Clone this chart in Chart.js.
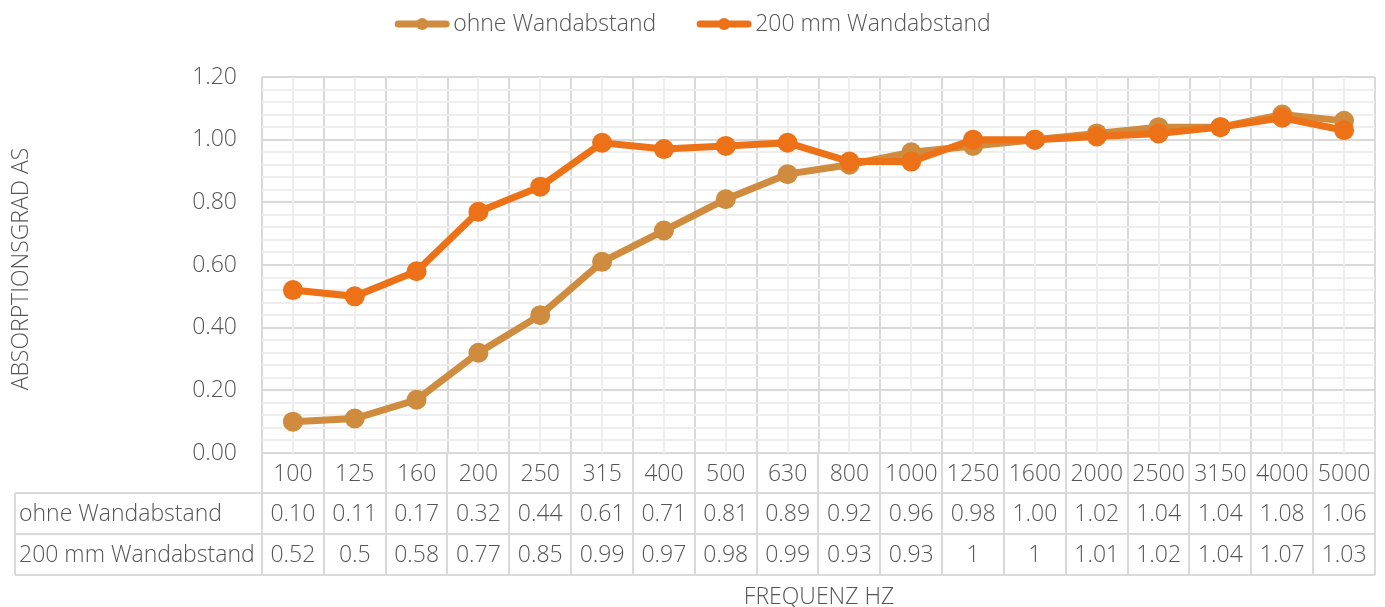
<!DOCTYPE html>
<html><head><meta charset="utf-8">
<script src="https://cdn.jsdelivr.net/npm/chart.js@4.4.1/dist/chart.umd.min.js"></script>
<style>html,body{margin:0;padding:0;background:#fff;}#wrap{width:1385px;height:607px;}</style>
</head><body><div id="wrap"><canvas id="c" width="1385" height="607"></canvas></div>
<script>
const categories = ["100","125","160","200","250","315","400","500","630","800","1000","1250","1600","2000","2500","3150","4000","5000"];
const ohneWandabstand = [0.10,0.11,0.17,0.32,0.44,0.61,0.71,0.81,0.89,0.92,0.96,0.98,1.00,1.02,1.04,1.04,1.08,1.06];
const mm200Wandabstand = [0.52,0.5,0.58,0.77,0.85,0.99,0.97,0.98,0.99,0.93,0.93,1,1,1.01,1.02,1.04,1.07,1.03];
const seriesLabels = ["ohne Wandabstand","200 mm Wandabstand"];
const yTitle = "ABSORPTIONSGRAD AS";
const xTitle = "FREQUENZ HZ";
const colors = ["#D08C3E","#ED7117"];
const FONT = "'Open Sans', sans-serif";
const W = "300 ";
const TXT = "#555555";
const MAJOR = "#d9d9d9", MINOR = "#eeeeee";

const tablePlugin = {
  id: 'tablePlugin',
  beforeDatasetsDraw(chart) {
    const ctx = chart.ctx, x = chart.scales.x, a = chart.chartArea;
    ctx.save();
    ctx.strokeStyle = MINOR; ctx.lineWidth = 2;
    for (let i = 0; i < categories.length; i++) {
      const px = Math.round(x.getPixelForValue(i));
      ctx.beginPath(); ctx.moveTo(px, a.top); ctx.lineTo(px, a.bottom); ctx.stroke();
    }
    ctx.restore();
  },
  afterDraw(chart) {
    const ctx = chart.ctx, x = chart.scales.x, a = chart.chartArea;
    const n = categories.length;
    const w = (x.getPixelForValue(1) - x.getPixelForValue(0));
    const r0 = a.bottom, r1 = r0 + 40, r2 = r1 + 41, r3 = r2 + 41;
    const tableLeft = 15;
    ctx.save();
    ctx.strokeStyle = MAJOR; ctx.lineWidth = 2;
    const line = (x1,y1,x2,y2) => { ctx.beginPath(); ctx.moveTo(x1,y1); ctx.lineTo(x2,y2); ctx.stroke(); };
    for (let i = 0; i <= n; i++) {
      const px = Math.round(x.getPixelForValue(0) - w/2 + i*w);
      line(px, r0, px, r3);
    }
    line(tableLeft, r1, a.right, r1);
    line(tableLeft, r2, a.right, r2);
    line(tableLeft, r3, a.right, r3);
    line(tableLeft, r1, tableLeft, r3);
    ctx.fillStyle = TXT;
    ctx.font = W + "23px " + FONT;
    ctx.textBaseline = 'middle';
    ctx.textAlign = 'center';
    const rows = [ohneWandabstand.map(v => v.toFixed(2)), mm200Wandabstand.map(v => String(v))];
    for (let i = 0; i < n; i++) {
      const cx = x.getPixelForValue(i);
      ctx.fillText(categories[i], cx, (r0 + r1)/2 + 1);
      ctx.fillText(rows[0][i], cx, (r1 + r2)/2 + 1);
      ctx.fillText(rows[1][i], cx, (r2 + r3)/2 + 1);
    }
    ctx.textAlign = 'left';
    ctx.fillText(seriesLabels[0], tableLeft + 4, (r1 + r2)/2 + 1);
    ctx.fillText(seriesLabels[1], tableLeft + 4, (r2 + r3)/2 + 1);
    // axis titles
    ctx.font = W + "23px " + FONT;
    ctx.textAlign = 'center';
    ctx.fillText(xTitle, 819, 597);
    ctx.save();
    ctx.translate(21, (a.top + a.bottom)/2 + 4);
    ctx.rotate(-Math.PI/2);
    ctx.fillText(yTitle, 0, 0);
    ctx.restore();
    // legend
    ctx.font = W + "23px " + FONT;
    const lineW = 56, gap = 3, itemGap = 40;
    const widths = chart.data.datasets.map(d => ctx.measureText(d.label).width);
    let total = 0;
    widths.forEach((tw, i) => { total += lineW + gap + tw + (i ? itemGap : 0); });
    let lx = chart.width/2 - total/2;
    const ly = 24;
    chart.data.datasets.forEach((d, i) => {
      if (i) lx += itemGap;
      ctx.strokeStyle = d.borderColor; ctx.lineWidth = 7; ctx.lineCap = 'round';
      line(lx + 4, ly, lx + lineW - 4, ly);
      ctx.fillStyle = d.borderColor;
      ctx.beginPath(); ctx.arc(lx + lineW/2, ly, 6, 0, Math.PI*2); ctx.fill();
      ctx.fillStyle = TXT; ctx.textAlign = 'left';
      ctx.fillText(d.label, lx + lineW + gap, ly);
      lx += lineW + gap + widths[i];
    });
    ctx.restore();
  }
};

new Chart(document.getElementById('c'), {
  type: 'line',
  data: {
    labels: categories,
    datasets: [
      { label: seriesLabels[0], data: ohneWandabstand, borderColor: colors[0], backgroundColor: colors[0],
        borderWidth: 7, pointRadius: 10, pointHoverRadius: 10, pointBorderWidth: 0, order: 1, tension: 0 },
      { label: seriesLabels[1], data: mm200Wandabstand, borderColor: colors[1], backgroundColor: colors[1],
        borderWidth: 7, pointRadius: 10, pointHoverRadius: 10, pointBorderWidth: 0, order: 0, tension: 0 }
    ]
  },
  options: {
    responsive: false, animation: false,
    layout: { padding: { left: 0, right: 8, top: 77, bottom: 154 } },
    plugins: { legend: { display: false }, tooltip: { enabled: false } },
    scales: {
      x: {
        type: 'category', offset: true,
        grid: { offset: true, color: MAJOR, lineWidth: 2, drawTicks: false },
        border: { display: false },
        ticks: { display: false },
        afterFit: s => { s.height = 0; }
      },
      y: {
        min: 0, max: 1.2,
        grid: { drawTicks: false, lineWidth: 2,
          color: c => { const v = c.tick.value; return Math.abs(v/0.2 - Math.round(v/0.2)) < 1e-6 ? MAJOR : MINOR; } },
        border: { display: false },
        ticks: { stepSize: 0.04, maxTicksLimit: 100, autoSkip: false, padding: 25, color: TXT,
          font: { family: FONT, size: 23, weight: 300 },
          callback: v => Math.abs(v/0.2 - Math.round(v/0.2)) < 1e-6 ? v.toFixed(2) : '' },
        afterFit: s => { s.width = 262; }
      }
    }
  },
  plugins: [tablePlugin]
});
</script></body></html>
